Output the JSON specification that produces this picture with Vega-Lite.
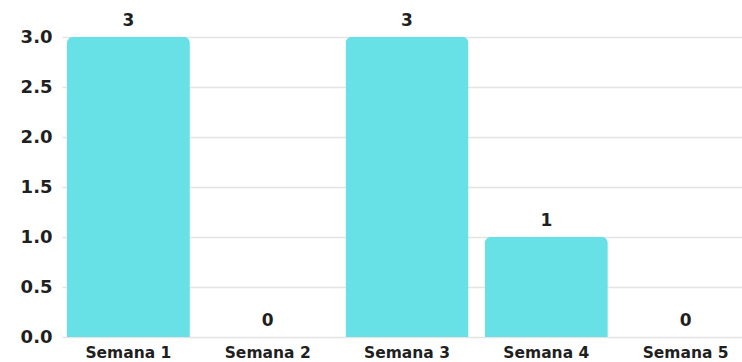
{
  "$schema": "https://vega.github.io/schema/vega-lite/v6.json",
  "autosize": "none",
  "width": 680,
  "height": 300,
  "padding": {"left": 62, "top": 37, "right": 0, "bottom": 25},
  "background": "white",
  "data": {"values": [
    {"semana": "Semana 1", "valor": 3},
    {"semana": "Semana 2", "valor": 0},
    {"semana": "Semana 3", "valor": 3},
    {"semana": "Semana 4", "valor": 1},
    {"semana": "Semana 5", "valor": 0}
  ]},
  "config": {
    "view": {"stroke": null},
    "font": "DejaVu Sans"
  },
  "encoding": {
    "x": {
      "field": "semana", "type": "nominal", "sort": null,
      "scale": {"range": [0, 690], "paddingInner": 0.117, "paddingOuter": 0.035},
      "axis": {"title": null, "labelAngle": 0, "domain": false, "ticks": false, "labelPadding": 8, "labelFontSize": 15.5, "labelFontWeight": "bold", "labelColor": "#1f1f1f", "labelFont": "DejaVu Sans"}
    },
    "y": {
      "field": "valor", "type": "quantitative",
      "scale": {"domain": [0, 3]},
      "axis": {"title": null, "values": [0, 0.5, 1, 1.5, 2, 2.5, 3], "format": ".1f", "domain": false, "ticks": false, "labelPadding": 10, "labelFontSize": 18, "labelFontWeight": "bold", "labelColor": "#1f1f1f", "labelFont": "DejaVu Sans", "gridColor": "#e4e4e4", "gridWidth": 1.5}
    }
  },
  "layer": [
    {"mark": {"type": "bar", "color": "#68E1E6", "cornerRadiusTopLeft": 6, "cornerRadiusTopRight": 6}},
    {"mark": {"type": "text", "baseline": "alphabetic", "dy": -11, "fontSize": 17, "fontWeight": "bold", "color": "#1f1f1f", "font": "DejaVu Sans"},
     "encoding": {"text": {"field": "valor", "type": "quantitative"}}}
  ]
}
